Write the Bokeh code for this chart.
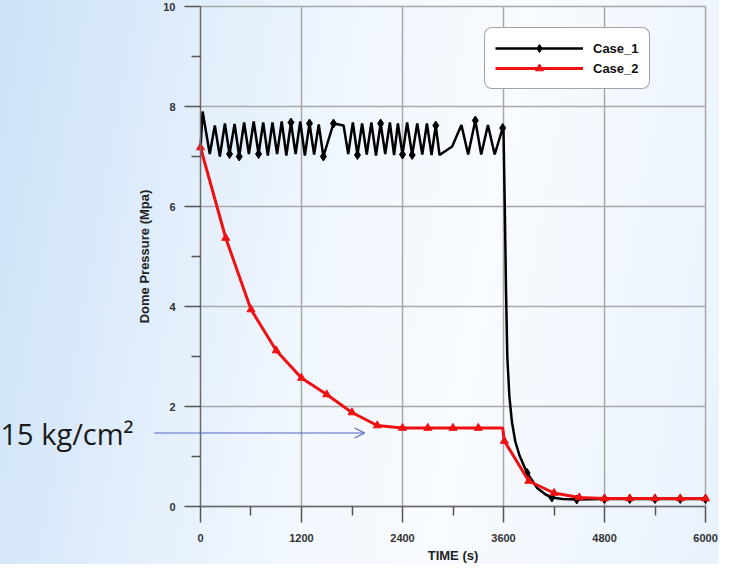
from bokeh.plotting import figure
from bokeh.models import (Range1d, FixedTicker, Legend, LegendItem, Arrow, OpenHead, Label)
from bokeh.embed import file_html
from bokeh.resources import INLINE

# ---------------- data ----------------
case1_time = [0, 25, 110, 170, 230, 290, 345, 405, 460, 518, 575, 632, 690, 745, 800, 855,
              910, 965, 1020, 1075, 1130, 1185, 1240, 1295, 1350, 1405, 1460, 1580, 1700, 1755,
              1810, 1865, 1920, 1975, 2030, 2085, 2140, 2195, 2250, 2300, 2345, 2400, 2455,
              2515, 2575, 2635, 2690, 2745, 2795, 2840, 2990, 3100, 3180, 3265, 3335, 3415,
              3495, 3590, 3600, 3615, 3630, 3645, 3670, 3700, 3740, 3790, 3880, 4000, 4100,
              4175, 4300, 4470, 4800, 5100, 5400, 5700, 6000]
case1_press = [7.15, 7.9, 7.05, 7.62, 7.0, 7.66, 7.05, 7.65, 7.0, 7.68, 7.05, 7.7, 7.05, 7.68,
               7.02, 7.68, 7.05, 7.7, 7.02, 7.68, 7.05, 7.7, 7.02, 7.66, 7.04, 7.64, 7.0, 7.66,
               7.62, 7.05, 7.68, 7.03, 7.66, 7.04, 7.68, 7.02, 7.66, 7.05, 7.68, 7.03, 7.66,
               7.04, 7.68, 7.03, 7.66, 7.04, 7.66, 7.03, 7.62, 7.03, 7.2, 7.63, 7.04, 7.72,
               7.04, 7.63, 7.04, 7.57, 7.5, 6.0, 4.3, 3.0, 2.2, 1.69, 1.3, 1.02, 0.67, 0.37,
               0.24, 0.18, 0.15, 0.14, 0.15, 0.15, 0.15, 0.15, 0.15]
# indices of Case_1 points that carry a diamond marker
case1_marker_idx = [6, 8, 12, 19, 23, 26, 27, 31, 36, 41, 43, 48, 53, 57, 66, 69, 71, 72, 73, 74, 75, 76]

case2_time = [0, 300, 600, 900, 1200, 1500, 1800, 2100, 2400, 2700, 3000, 3300, 3590, 3610,
              3900, 4200, 4500, 4800, 5100, 5400, 5700, 6000]
case2_press = [7.18, 5.37, 3.94, 3.12, 2.57, 2.24, 1.88, 1.62, 1.57, 1.57, 1.57, 1.57, 1.57,
               1.31, 0.51, 0.27, 0.18, 0.16, 0.16, 0.16, 0.16, 0.16]
case2_marker_idx = [0, 1, 2, 3, 4, 5, 6, 7, 8, 9, 10, 11, 13, 14, 15, 16, 17, 18, 19, 20, 21]

x_ticks = [0, 1200, 2400, 3600, 4800, 6000]
x_minor = [600, 1800, 3000, 4200, 5400]
y_ticks = [0, 2, 4, 6, 8, 10]
y_minor = [1, 3, 5, 7, 9]
series_names = ["Case_1", "Case_2"]
ref_pressure = 1.47          # 15 kg/cm2 in MPa
ref_text = "15 kg/cm\u00b2"
x_title = "TIME (s)"
y_title = "Dome Pressure (Mpa)"

X0, X1 = x_ticks[0], x_ticks[-1]
Y0, Y1 = y_ticks[0], y_ticks[-1]

# The frame covers the whole canvas; axes sit at fixed data locations
# (x = 0 and y = 0), so the room around the data is range padding.
p = figure(width=719, height=564, output_backend="svg", toolbar_location=None,
           x_range=Range1d(-2376, 6166), y_range=Range1d(-1.16, 10.12),
           min_border_left=0, min_border_right=0, min_border_top=0, min_border_bottom=0)
p.border_fill_color = None
p.background_fill_color = None
p.outline_line_color = None
p.styles = {"background": "linear-gradient(100deg, #cbe2f9 0%, #dbeafa 18%, #f1f7fe 45%, #f8fbff 65%, #e9f2fc 100%)"}

FONT = "Liberation Sans"
p.yaxis.fixed_location = X0
p.xaxis.fixed_location = Y0
p.yaxis.bounds = (Y0, Y1)
p.xaxis.bounds = (X0, X1)
for ax, ticks, minor in ((p.xaxis[0], x_ticks, x_minor), (p.yaxis[0], y_ticks, y_minor)):
    ax.ticker = FixedTicker(ticks=ticks, minor_ticks=minor)
    ax.major_tick_out = 16
    ax.major_tick_in = 0
    ax.minor_tick_out = 9
    ax.minor_tick_in = 0
    ax.axis_line_color = "#6a6a6a"
    ax.axis_line_width = 1.5
    ax.major_tick_line_color = "#555555"
    ax.major_tick_line_width = 1.5
    ax.minor_tick_line_color = "#555555"
    ax.minor_tick_line_width = 1.5
    ax.major_label_text_font = FONT
    ax.major_label_text_font_style = "bold"
    ax.major_label_text_font_size = "11px"
    ax.major_label_text_color = "#333333"
    ax.axis_label_text_font = FONT
    ax.axis_label_text_font_style = "bold"
    ax.axis_label_text_font_size = "13px"
    ax.axis_label_text_color = "#222222"

p.yaxis.major_label_standoff = 9
p.xaxis.major_label_standoff = 11
p.xaxis.axis_label = x_title
p.yaxis.axis_label = y_title
p.xaxis.axis_label_standoff = 3
p.yaxis.axis_label_standoff = 8

# grid lines bounded to the data area, computed from the tick lists
p.xgrid.visible = False
p.ygrid.visible = False
GRID = dict(line_color="#a8a8a8", line_width=1.5, level="underlay")
p.segment(x0=[X0] * len(y_ticks), y0=y_ticks, x1=[X1] * len(y_ticks), y1=y_ticks, **GRID)
p.segment(x0=x_ticks[1:], y0=[Y0] * (len(x_ticks) - 1), x1=x_ticks[1:], y1=[Y1] * (len(x_ticks) - 1), **GRID)

# ---------------- series ----------------
l1 = p.line(case1_time, case1_press, line_color="black", line_width=2.5)
s1 = p.scatter([case1_time[i] for i in case1_marker_idx], [case1_press[i] for i in case1_marker_idx],
               marker="diamond", size=9, fill_color="black", line_color="black")

l2 = p.line(case2_time, case2_press, line_color="#ee1111", line_width=3)
s2 = p.scatter([case2_time[i] for i in case2_marker_idx], [case2_press[i] for i in case2_marker_idx],
               marker="triangle", size=8, fill_color="#ee1111", line_color="#ee1111")

lg = Legend(items=[LegendItem(label=series_names[0], renderers=[l1, s1]),
                   LegendItem(label=series_names[1], renderers=[l2, s2])],
            location=(484, 475), glyph_width=88, glyph_height=20, label_height=20,
            label_standoff=10, padding=10, spacing=0, margin=0,
            border_line_color="#4a4a4a", border_line_width=1.5, border_radius=8,
            background_fill_color="white", background_fill_alpha=1.0,
            label_text_font=FONT, label_text_font_style="bold",
            label_text_font_size="13px", label_text_color="#111111")
p.add_layout(lg, "center")

# ---------------- annotation ----------------
p.add_layout(Arrow(end=OpenHead(size=10, line_color="#5566c0", line_width=1.2),
                   x_start=-550, y_start=ref_pressure, x_end=1950, y_end=ref_pressure,
                   line_color="#5566c0", line_width=1.2))
p.add_layout(Label(x=-2376, y=ref_pressure, text=ref_text, text_font="Open Sans",
                   text_font_size="29px", text_color="#1a1a1a",
                   text_align="left", text_baseline="middle"))

open("out.html", "w").write(file_html(p, INLINE))
